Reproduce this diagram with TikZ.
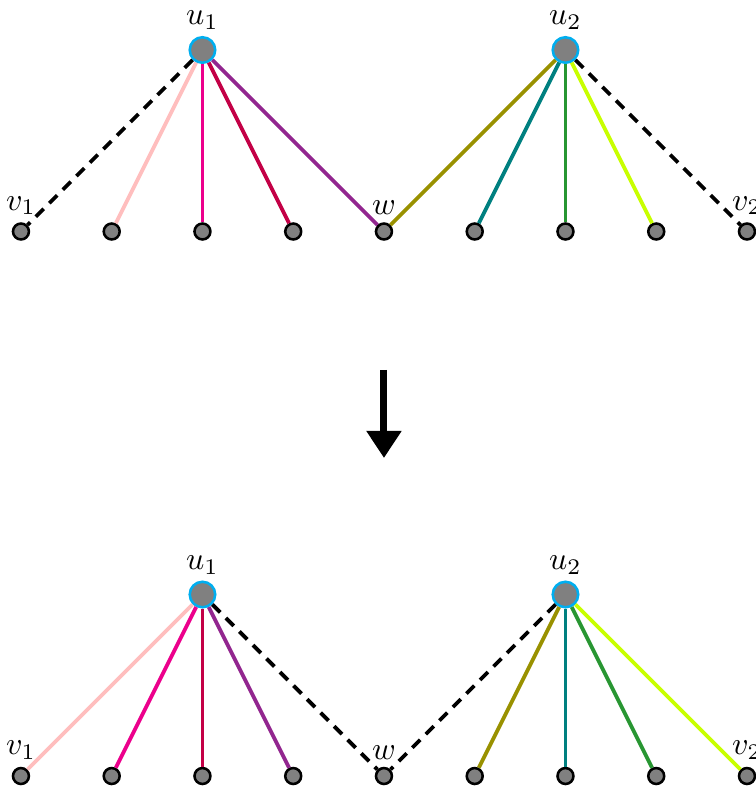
\documentclass[tikz,border=0pt]{standalone}
\usetikzlibrary{arrows.meta}
\definecolor{ringblue}{RGB}{0,174,239}
\definecolor{epink}{RGB}{255,190,190}
\definecolor{emag}{RGB}{236,0,140}
\definecolor{epurp}{RGB}{195,0,70}
\definecolor{eviol}{RGB}{146,38,143}
\definecolor{eolive}{RGB}{153,145,0}
\definecolor{eteal}{RGB}{0,128,128}
\definecolor{egreen}{RGB}{40,150,50}
\definecolor{elime}{RGB}{200,255,0}
\begin{document}
\begin{tikzpicture}[x=1cm,y=1cm,
        leaf/.style={circle,draw,thick,fill=gray,minimum size=5pt,inner sep=0pt},
        hub/.style={circle,draw=ringblue,thick,fill=gray,minimum size=8pt,inner sep=0pt},
        edge/.style={line width=1.2pt},
        gap/.style={line width=1.2pt,dash pattern=on 3.5pt off 2.5pt}]
                \useasboundingbox (-0.231,-0.154) rectangle (8.099,8.551);
                % two copies: t = before, b = after
                \foreach \y/\s in {6/t,0/b}{
                \foreach \x in {0,...,8}
                \node[leaf] (\s\x) at (\x,\y) {};
                \node[hub,label={[yshift=-1.5pt]above:$u_1$}] (\s u1) at (2,\y+2) {};
                \node[hub,label={[yshift=-1.5pt]above:$u_2$}] (\s u2) at (6,\y+2) {};
                \node[above=-1.2pt] at (\s0.north) {$v_1$};
                \node[above=-1.2pt] at (\s4.north) {$w$};
                \node[above=-1.2pt] at (\s8.north) {$v_2$};
                }
                % before
                \draw[gap] (tu1) -- (t0);
                \foreach \x/\c in {1/epink,2/emag,3/epurp,4/eviol}
                \draw[edge,\c] (tu1) -- (t\x);
                \foreach \x/\c in {4/eolive,5/eteal,6/egreen,7/elime}
                \draw[edge,\c] (tu2) -- (t\x);
                \draw[gap] (tu2) -- (t8);
                % after
                \foreach \x/\c in {0/epink,1/emag,2/epurp,3/eviol}
                \draw[edge,\c] (bu1) -- (b\x);
                \draw[gap] (bu1) -- (b4);
                \draw[gap] (bu2) -- (b4);
                \foreach \x/\c in {5/eolive,6/eteal,7/egreen,8/elime}
                \draw[edge,\c] (bu2) -- (b\x);
                \coordinate (arrtop) at (4,4.474);
                \coordinate (arrbot) at (4,3.504);
                \draw[line width=2.2pt,-{Triangle[width=10.5pt,length=8.5pt]}] (arrtop) -- (arrbot);
                \end{tikzpicture}
\end{document}
